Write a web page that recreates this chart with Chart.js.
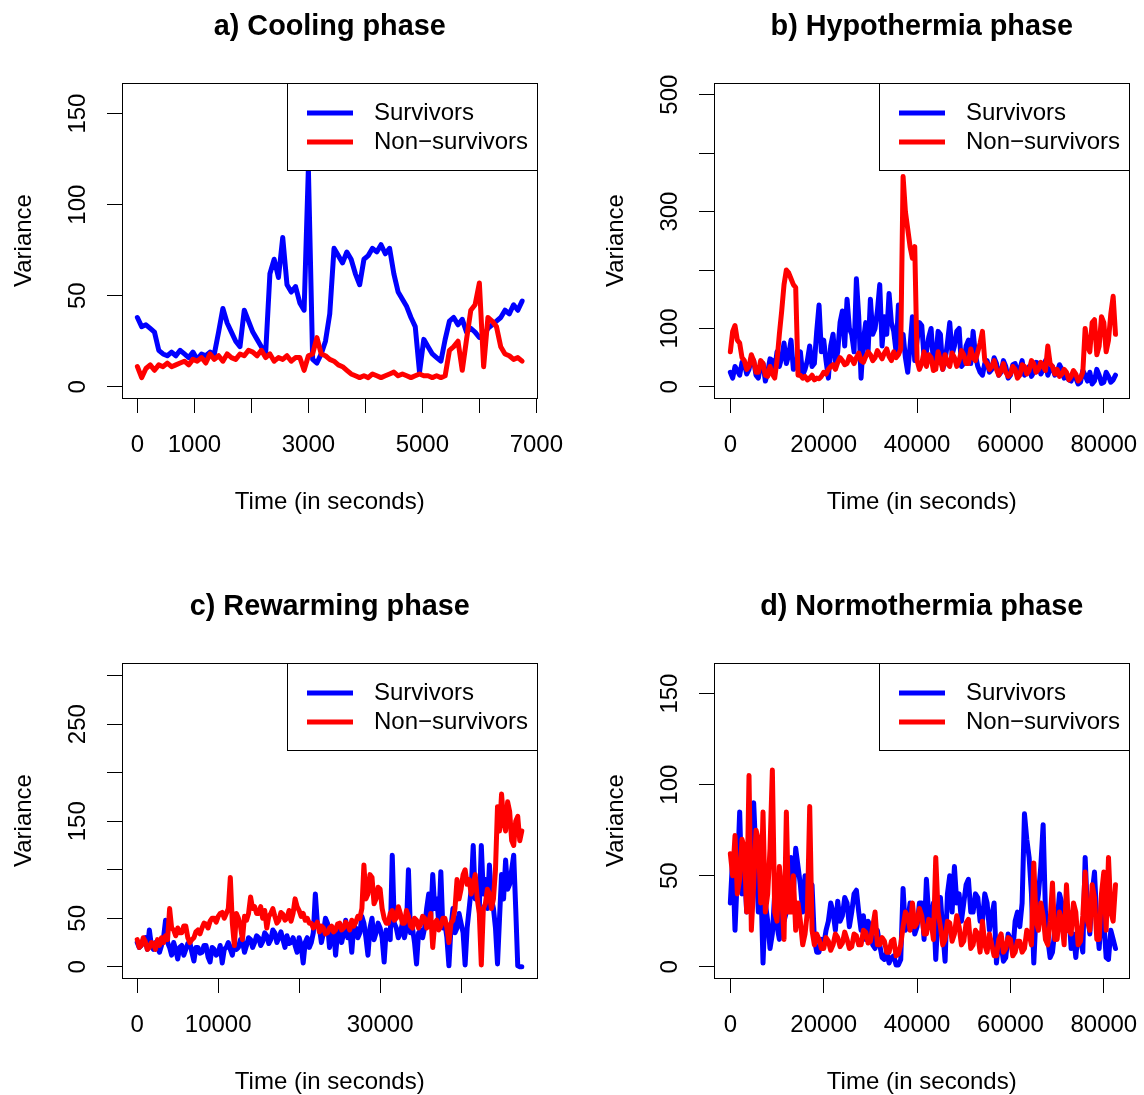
<!DOCTYPE html>
<html>
<head>
<meta charset="utf-8">
<script src="https://cdn.jsdelivr.net/npm/chart.js@4.4.1/dist/chart.umd.min.js"></script>
<style>
  html, body { margin: 0; padding: 0; background: #fff; overflow: hidden; }
  body { width: 1144px; height: 1095px; position: relative; }
  canvas { position: absolute; }
  #pa { left: 0; top: 0; }
  #pb { left: 592px; top: 0; }
  #pc { left: 0; top: 580px; }
  #pd { left: 592px; top: 580px; }
</style>
</head>
<body>
<canvas id="pa" width="572" height="515"></canvas>
<canvas id="pb" width="552" height="515"></canvas>
<canvas id="pc" width="572" height="515"></canvas>
<canvas id="pd" width="552" height="515"></canvas>
<script>
const legendLabels = ["Survivors", "Non\u2212survivors"];
const titles = ["a) Cooling phase", "b) Hypothermia phase", "c) Rewarming phase", "d) Normothermia phase"];
const xTitle = "Time (in seconds)";
const yTitle = "Variance";

// a) cooling
const coolTime = [0,75,150,225,300,375,450,525,600,675,750,825,900,975,1050,1125,1200,1275,1350,1425,
  1500,1575,1650,1725,1800,1875,1950,2025,2100,2175,2250,2325,2400,2475,2550,2625,2700,2775,2850,2925,
  3000,3075,3150,3225,3300,3375,3450,3525,3600,3675,3750,3825,3900,3975,4050,4125,4200,4275,4350,4425,
  4500,4575,4650,4725,4800,4875,4950,5025,5100,5175,5250,5325,5400,5475,5550,5625,5700,5775,5850,5925,
  6000,6075,6150,6225,6300,6375,6450,6525,6600,6675,6750];
const coolSurv = [38,33,34,32,30,20,18,17,19,17, 20,18,16,19,15,18,17,19,18,30,
  43,35,30,25,22,42,36,30,26,22, 18,62,70,60,82,56,52,55,46,42,
  120,15,13,18,25,40,76,72,68,74, 70,62,56,70,72,76,74,78,73,76,
  62,52,48,44,38,33,8,26,22,18, 16,14,26,36,38,34,37,30,32,30,
  27,28,32,34,36,38,42,40,45,42, 47];
const coolNon = [11,5,10,12,9,12,11,13,11,12, 13,14,12,15,14,16,13,18,15,17,
  14,18,16,15,18,17,20,19,17,20, 16,18,14,16,15,17,14,16,16,9,
  17,18,27,18,17,15,14,12,11,9, 7,6,5,6,5,7,6,5,6,7,
  8,6,7,6,5,6,7,6,6,5, 6,5,6,20,22,25,9,26,42,45,
  57,11,38,36,33,22,18,17,15,16, 14];
const coolXTicks = [0,1000,2000,3000,4000,5000,6000,7000];
const coolXLabels = ["0","1000","","3000","","5000","","7000"];
const coolYTicks = [0,50,100,150];
const coolYLabels = ["0","50","100","150"];

// b) hypothermia and d) normothermia share one time grid
const longTime = [0,500,1000,1500,2000,2500,3000,3500,4000,4500,
  5000,5500,6000,6500,7000,7500,8000,8500,9000,9500,
  10000,10500,11000,11500,12000,12500,13000,13500,14000,14500,
  15000,15500,16000,16500,17000,17500,18000,18500,19000,19500,
  20000,20500,21000,21500,22000,22500,23000,23500,24000,24500,
  25000,25500,26000,26500,27000,27500,28000,28500,29000,29500,
  30000,30500,31000,31500,32000,32500,33000,33500,34000,34500,
  35000,35500,36000,36500,37000,37500,38000,38500,39000,39500,
  40000,40500,41000,41500,42000,42500,43000,43500,44000,44500,
  45000,45500,46000,46500,47000,47500,48000,48500,49000,49500,
  50000,50500,51000,51500,52000,52500,53000,53500,54000,54500,
  55000,55500,56000,56500,57000,57500,58000,58500,59000,59500,
  60000,60500,61000,61500,62000,62500,63000,63500,64000,64500,
  65000,65500,66000,66500,67000,67500,68000,68500,69000,69500,
  70000,70500,71000,71500,72000,72500,73000,73500,74000,74500,
  75000,75500,76000,76500,77000,77500,78000,78500,79000,79500,
  80000,80500,81000,81500,82000,82500];
const hypoSurv = [25,15,35,28,20,42,40,22,30,50, 45,20,15,38,40,10,25,48,45,30,
  60,35,50,75,40,55,80,30,35,55, 60,20,30,45,70,35,40,95,140,60,
  80,45,15,70,90,40,60,110,130,70, 150,100,90,60,185,120,15,80,110,60,
  150,90,100,130,175,70,120,90,160,110, 95,60,140,75,90,50,25,70,120,45,
  80,110,105,50,60,85,100,40,50,95, 90,30,45,75,110,55,70,95,100,35,
  40,70,80,40,95,55,35,25,20,40, 45,25,30,50,40,20,25,45,35,15,
  20,38,40,25,30,45,20,30,35,18, 25,42,40,22,30,45,20,30,35,20,
  25,38,30,15,20,12,10,25,15,5, 8,28,20,10,25,5,10,30,20,6,
  8,25,18,8,12,20];
const hypoNon = [60,95,105,80,75,50,45,30,35,55, 45,25,25,45,40,20,18,35,22,15,
  45,90,130,175,200,195,185,175,170,20, 20,15,18,12,15,20,12,15,14,18,
  25,22,30,35,38,30,42,50,45,38, 40,52,48,40,50,58,45,42,52,60,
  55,45,50,62,55,48,58,65,52,45, 60,50,55,65,360,300,270,240,220,240,
  45,30,40,60,35,55,50,28,30,60, 45,30,55,40,35,58,50,35,45,62,
  55,40,40,65,50,45,60,75,95,45, 40,30,35,45,30,20,28,40,25,18,
  22,35,30,15,20,38,35,22,28,45, 40,25,30,42,35,28,70,40,35,22,
  30,18,22,30,25,12,18,28,22,10, 15,25,100,70,60,110,115,55,70,120,
  110,60,80,125,155,90];
const longXTicks = [0,20000,40000,60000,80000];
const longXLabels = ["0","20000","40000","60000","80000"];
const hypoYTicks = [0,100,200,300,400,500];
const hypoYLabels = ["0","100","","300","","500"];

// c) rewarming
const rewarmTime = [0,250,500,750,1000,1250,1500,1750,2000,2250,
  2500,2750,3000,3250,3500,3750,4000,4250,4500,4750,
  5000,5250,5500,5750,6000,6250,6500,6750,7000,7250,
  7500,7750,8000,8250,8500,8750,9000,9250,9500,9750,
  10000,10250,10500,10750,11000,11250,11500,11750,12000,12250,
  12500,12750,13000,13250,13500,13750,14000,14250,14500,14750,
  15000,15250,15500,15750,16000,16250,16500,16750,17000,17250,
  17500,17750,18000,18250,18500,18750,19000,19250,19500,19750,
  20000,20250,20500,20750,21000,21250,21500,21750,22000,22250,
  22500,22750,23000,23250,23500,23750,24000,24250,24500,24750,
  25000,25250,25500,25750,26000,26250,26500,26750,27000,27250,
  27500,27750,28000,28250,28500,28750,29000,29250,29500,29750,
  30000,30250,30500,30750,31000,31250,31500,31750,32000,32250,
  32500,32750,33000,33250,33500,33750,34000,34250,34500,34750,
  35000,35250,35500,35750,36000,36250,36500,36750,37000,37250,
  37500,37750,38000,38250,38500,38750,39000,39250,39500,39750,
  40000,40250,40500,40750,41000,41250,41500,41750,42000,42250,
  42500,42750,43000,43250,43500,43750,44000,44250,44500,44750,
  45000,45250,45500,45750,46000,46250,46500,46750,47000,47250,
  47500];
const rewarmSurv = [25,20,22,28,30,18,38,22,18,25, 20,15,22,30,48,25,20,12,25,18,
  8,20,22,12,18,24,25,15,6,20, 20,14,15,22,22,10,5,20,18,12,
  14,22,4,18,20,25,18,12,24,18, 20,28,26,15,22,30,28,20,25,32,
  30,22,26,35,32,24,28,38,35,25, 30,36,28,20,32,24,25,30,22,15,
  30,22,4,25,30,20,25,35,75,45, 40,25,35,50,45,20,30,40,12,35,
  40,25,35,48,30,38,15,42,40,30, 35,52,45,30,12,40,50,28,35,45,
  40,30,5,38,35,28,115,45,40,30, 35,45,30,40,100,35,40,25,3,35,
  38,30,40,60,75,50,95,60,70,45, 98,40,45,30,1,40,60,35,40,55,
  45,35,2,40,60,80,125,70,80,60, 125,75,90,60,105,70,60,40,3,50,
  95,70,110,80,85,100,115,60,1,0, 0];
const rewarmNon = [28,20,22,30,26,18,20,25,24,18, 28,22,30,25,32,28,60,40,38,32,
  40,35,35,42,42,30,25,28,30,36, 38,34,40,45,44,40,47,50,50,46,
  52,55,56,50,55,60,92,45,22,55, 50,42,28,52,48,55,72,60,62,55,
  55,62,50,58,40,52,55,60,52,45, 48,56,54,48,50,58,47,55,70,62,
  58,52,55,48,50,45,45,40,42,46, 36,42,40,34,35,40,42,36,38,44,
  45,38,40,46,43,38,48,42,46,52, 50,60,105,70,75,95,92,65,70,82,
  80,60,50,45,45,55,58,48,50,62, 55,45,45,58,52,42,40,50,48,40,
  44,52,50,40,45,55,20,45,48,38, 42,50,50,40,25,45,48,60,90,70,
  80,95,100,85,90,75,85,95,70,55, 2,60,65,80,75,60,70,100,165,140,
  178,150,140,170,160,130,125,150,155,130, 140];
const rewarmXTicks = [0,10000,20000,30000,40000];
const rewarmXLabels = ["0","10000","","30000",""];
const rewarmYTicks = [0,50,100,150,200,250,300];
const rewarmYLabels = ["0","50","","150","","250",""];

// d) normothermia
const normSurv = [35,60,20,50,85,40,55,30,70,45, 90,60,30,50,2,35,25,10,18,40,
  22,15,40,25,30,45,60,40,65,55, 45,30,50,35,30,45,15,8,8,15,
  12,20,25,35,30,20,36,25,28,38, 35,22,30,40,42,30,20,28,15,25,
  22,12,10,20,12,5,4,8,2,5, 6,1,1,4,43,20,25,35,30,18,
  22,35,35,15,48,28,25,35,4,30, 38,20,3,40,50,30,55,35,40,25,
  35,45,48,30,30,40,38,25,25,40, 35,20,28,35,2,15,12,3,5,18,
  15,8,25,30,22,35,84,70,60,40, 2,30,40,55,78,30,15,5,8,20,
  25,40,35,22,20,30,10,18,5,20, 15,8,60,30,18,40,52,25,10,30,
  25,5,4,20,15,10];
const normNon = [62,50,72,40,48,70,65,30,105,20, 45,75,70,35,85,30,40,65,108,30,
  25,55,40,15,85,30,30,50,20,35, 25,12,18,30,88,20,12,18,15,10,
  10,16,14,9,12,18,16,11,13,19, 15,10,11,18,17,12,12,20,19,13,
  14,22,30,12,12,16,14,8,8,14, 15,6,7,12,22,30,28,20,35,22,
  24,32,28,18,18,26,25,15,60,30, 22,12,15,25,24,14,18,28,22,12,
  14,24,26,10,12,20,18,8,25,12, 8,18,12,6,6,15,18,8,10,16,
  15,6,8,14,14,8,10,20,18,12, 57,25,20,35,28,15,12,25,46,15,
  15,30,25,12,45,20,18,35,30,12, 14,28,52,25,20,45,38,15,15,40,
  52,20,60,30,25,45];
const normYTicks = [0,50,100,150];
const normYLabels = ["0","50","100","150"];

const FONT = '"Liberation Sans", Arial, Helvetica, sans-serif';
Chart.defaults.font.family = FONT;
Chart.defaults.color = "#000";

// R base-graphics look: box, rotated y labels, legend box, titles
const rStyle = {
  id: "rStyle",
  afterDraw(chart) {
    const { ctx, chartArea: a } = chart;
    const o = chart.options.plugins.rStyle;
    const x0 = Math.round(a.left) + 0.5, x1 = Math.round(a.right) - 0.5;
    const y0 = Math.round(a.top) + 0.5, y1 = Math.round(a.bottom) + 0.5;
    ctx.save();
    ctx.strokeStyle = "#000";
    ctx.lineWidth = 1;
    ctx.strokeRect(x0, y0, x1 - x0, y1 - y0);

    // y tick labels, parallel to the axis
    const ys = chart.scales.y;
    ctx.fillStyle = "#000";
    ctx.font = "24px " + FONT;
    ctx.textAlign = "center";
    ctx.textBaseline = "middle";
    ys.ticks.forEach((t, i) => {
      const lab = o.yLabels[i];
      if (!lab) return;
      ctx.save();
      ctx.translate(a.left - 43.5, ys.getPixelForValue(t.value));
      ctx.rotate(-Math.PI / 2);
      ctx.fillText(lab, 0, 0);
      ctx.restore();
    });

    // axis titles
    const cx = (a.left + a.right) / 2, cy = (a.top + a.bottom) / 2;
    ctx.textBaseline = "alphabetic";
    ctx.fillText(xTitle, cx, a.bottom + 111);
    ctx.save();
    ctx.translate(a.left - 91.5, cy);
    ctx.rotate(-Math.PI / 2);
    ctx.fillText(yTitle, 0, 0);
    ctx.restore();

    // main title
    ctx.font = "bold 28.8px " + FONT;
    ctx.fillText(o.title, cx, a.top - 48);

    // legend
    const lx = x1 - 250, ly = y0;
    ctx.fillStyle = "#fff";
    ctx.fillRect(lx, ly, 250, 87);
    ctx.strokeRect(lx, ly, 250, 87);
    ctx.font = "24px " + FONT;
    ctx.textAlign = "left";
    ctx.textBaseline = "middle";
    [1, 0].forEach((di, row) => {
      const ds = chart.data.datasets[di];
      const yy = a.top + 30 + row * 29;
      ctx.strokeStyle = ds.borderColor;
      ctx.lineWidth = 5;
      ctx.lineCap = "butt";
      ctx.beginPath();
      ctx.moveTo(a.left + 185, yy);
      ctx.lineTo(a.left + 231, yy);
      ctx.stroke();
      ctx.fillStyle = "#000";
      ctx.fillText(ds.label, a.left + 252, yy);
    });
    ctx.restore();
  }
};

function pts(time, vals) {
  return time.map((t, i) => ({ x: t, y: vals[i] }));
}

function makePanel(id, cfg) {
  const canvas = document.getElementById(id);
  const fixPad = s => { s.paddingLeft = 0; s.paddingRight = 0; s.paddingTop = 0; s.paddingBottom = 0; };
  new Chart(canvas, {
    type: "line",
    data: {
      datasets: [
        { label: legendLabels[1], data: pts(cfg.time, cfg.non), borderColor: "#ff0000", order: 0 },
        { label: legendLabels[0], data: pts(cfg.time, cfg.surv), borderColor: "#0000ff", order: 1 }
      ]
    },
    options: {
      responsive: false,
      animation: false,
      events: [],
      layout: { padding: { left: 0, top: 83, right: canvas.width - 537.5, bottom: 0 } },
      elements: {
        point: { radius: 0 },
        line: { borderWidth: 5, tension: 0, fill: false, borderJoinStyle: "round", borderCapStyle: "round" }
      },
      plugins: {
        legend: { display: false },
        tooltip: { enabled: false },
        title: { display: false },
        rStyle: { title: cfg.title, yLabels: cfg.yLabels }
      },
      scales: {
        x: {
          type: "linear",
          min: cfg.xMin, max: cfg.xMax,
          afterBuildTicks: s => { s.ticks = cfg.xTicks.map(v => ({ value: v })); },
          afterFit: s => { s.height = 117; fixPad(s); },
          ticks: {
            autoSkip: false, maxRotation: 0, minRotation: 0, padding: 18,
            font: { size: 24 }, color: "#000",
            callback: (v, i) => cfg.xLabels[i]
          },
          grid: { drawOnChartArea: false, drawTicks: true, tickLength: 15, color: "#000", lineWidth: 1 },
          border: { display: false }
        },
        y: {
          type: "linear",
          min: cfg.yMin, max: cfg.yMax,
          afterBuildTicks: s => { s.ticks = cfg.yTicks.map(v => ({ value: v })); },
          afterFit: s => { s.width = 122; fixPad(s); },
          ticks: { display: false },
          grid: { drawOnChartArea: false, drawTicks: true, tickLength: 15, color: "#000", lineWidth: 1 },
          border: { display: false }
        }
      }
    },
    plugins: [rStyle]
  });
}

makePanel("pa", { title: titles[0], time: coolTime, surv: coolSurv, non: coolNon,
  xMin: -270, xMax: 7020, yMin: -6.2, yMax: 166.8,
  xTicks: coolXTicks, xLabels: coolXLabels, yTicks: coolYTicks, yLabels: coolYLabels });
makePanel("pb", { title: titles[1], time: longTime, surv: hypoSurv, non: hypoNon,
  xMin: -3500, xMax: 85500, yMin: -19, yMax: 520,
  xTicks: longXTicks, xLabels: longXLabels, yTicks: hypoYTicks, yLabels: hypoYLabels });
makePanel("pc", { title: titles[2], time: rewarmTime, surv: rewarmSurv, non: rewarmNon,
  xMin: -1880, xMax: 49440, yMin: -11.5, yMax: 313,
  xTicks: rewarmXTicks, xLabels: rewarmXLabels, yTicks: rewarmYTicks, yLabels: rewarmYLabels });
makePanel("pd", { title: titles[3], time: longTime, surv: normSurv, non: normNon,
  xMin: -3500, xMax: 85500, yMin: -6.2, yMax: 166.8,
  xTicks: longXTicks, xLabels: longXLabels, yTicks: normYTicks, yLabels: normYLabels });
</script>
</body>
</html>
